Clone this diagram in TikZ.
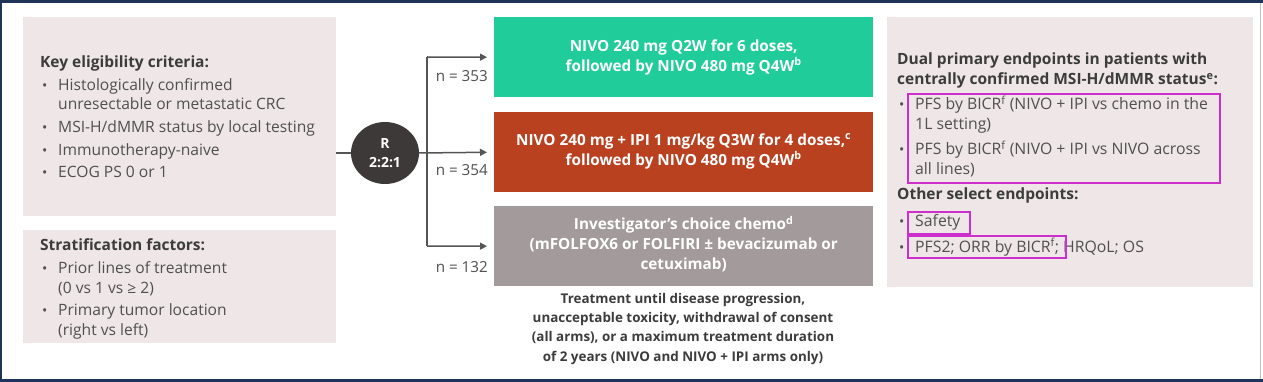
\documentclass[tikz,border=0pt]{standalone}
\usepackage{fontspec}
\setmainfont{Open Sans}
\usetikzlibrary{arrows.meta,shapes.geometric}
\definecolor{pinkbg}{HTML}{EEE6E7}
\definecolor{armgreen}{HTML}{20CC9A}
\definecolor{armred}{HTML}{BA4120}
\definecolor{armgrey}{HTML}{A39B9B}
\definecolor{circdark}{HTML}{3D3939}
\definecolor{hilite}{HTML}{CC2FCC}
\definecolor{txtgrey}{HTML}{505050}
\definecolor{headgrey}{HTML}{3C3C3C}
\definecolor{navy}{HTML}{1F3458}
\definecolor{linegrey}{HTML}{555555}
\tikzset{
  panel/.style={fill=pinkbg, draw=none, anchor=north west, inner sep=0},
  arm/.style={draw=none, anchor=north west, inner sep=0, minimum width=379pt, minimum height=80pt},
  armtxt/.style={anchor=center, inner sep=0, text=white, font=\fontsize{15.3}{20}\selectfont\bfseries, align=center},
  txt/.style={anchor=base west, inner sep=0, text=txtgrey, font=\fontsize{15.6}{19.5}\selectfont, align=left},
  rtxt/.style={anchor=base west, inner sep=0, text=txtgrey, font=\fontsize{15.8}{20}\selectfont, align=left},
  head/.style={anchor=base west, inner sep=0, text=headgrey, font=\fontsize{15.5}{20}\selectfont\bfseries, align=left},
  bul/.style={anchor=base west, inner sep=0, text=txtgrey, font=\fontsize{14}{19.5}\selectfont},
  nlab/.style={anchor=base east, inner sep=0, text=txtgrey, font=\fontsize{15.2}{19.5}\selectfont},
  conn/.style={draw=linegrey, line width=1.5pt},
  arr/.style={conn, -{Triangle[length=7pt,width=7pt]}, shorten >=7pt},
  hbox/.style={draw=hilite, line width=2pt, anchor=north west, inner sep=0},
}
\begin{document}
\begin{tikzpicture}[x=1pt,y=-1pt]
\useasboundingbox (0,0) rectangle (1263,382);
\fill[white] (0,0) rectangle (1263,382);
% frame
\fill[navy] (0,0) rectangle (1263,3.5);
\fill[navy] (0,378.5) rectangle (1263,382);
\fill[navy] (0,0) rectangle (1.5,382);
\fill[black!25] (1259.5,3.5) rectangle (1261,378.5);
% left panels
\node[panel, minimum width=313pt, minimum height=199pt] (lb1) at (23,17) {};
\node[panel, minimum width=313pt, minimum height=113pt] (lb2) at (23,230) {};
\node[head] (h1) at (40,68) {Key eligibility criteria:};
\node[bul] (b11) at (42,91) {•};
\node[txt] (t11) at (58,110) {Histologically confirmed\\unresectable or metastatic CRC};
\node[bul] (b12) at (42,133) {•};
\node[txt] (t12) at (58,133) {MSI-H/dMMR status by local testing};
\node[bul] (b13) at (42,156) {•};
\node[txt] (t13) at (58,156) {Immunotherapy-naive};
\node[bul] (b14) at (42,178) {•};
\node[txt] (t14) at (58,178) {ECOG PS 0 or 1};
\node[head] (h2) at (40,250) {Stratification factors:};
\node[bul] (b21) at (42,273) {•};
\node[txt] (t21) at (58,293) {Prior lines of treatment\\(0 vs 1 vs ≥ 2)};
\node[bul] (b22) at (42,315) {•};
\node[txt] (t22) at (58,335) {Primary tumor location\\(right vs left)};
% randomisation
\node[ellipse, fill=circdark, minimum width=68pt, minimum height=62pt, inner sep=0, text=white, font=\fontsize{14}{19}\selectfont\bfseries, align=center] (R) at (385,153) {R\\2:2:1};
% arms
\node[arm, fill=armgreen] (green) at (494,17) {};
\node[arm, fill=armred] (red) at (494,112) {};
\node[arm, fill=armgrey] (grey) at (494,206) {};
\node[armtxt] (gt) at (green.center) {NIVO 240 mg Q2W for 6 doses,\\followed by NIVO 480 mg Q4W\textsuperscript{b}};
\node[armtxt] (rt) at ([yshift=1pt]red.center) {NIVO 240 mg + IPI 1 mg/kg Q3W for 4 doses,\textsuperscript{c}\\followed by NIVO 480 mg Q4W\textsuperscript{b}};
\node[armtxt] (yt) at ([yshift=2pt]grey.center) {Investigator’s choice chemo\textsuperscript{d}\\(mFOLFOX6 or FOLFIRI ± bevacizumab or\\cetuximab)};
\node[anchor=base, inner sep=0, text=headgrey, font=\fontsize{13.4}{19.3}\selectfont\bfseries, align=center] (treat) at (683,361) {Treatment until disease progression,\\unacceptable toxicity, withdrawal of consent\\(all arms), or a maximum treatment duration\\of 2 years (NIVO and NIVO + IPI arms only)};
% n labels
\node[nlab] (n1) at (488,82) {n = 353};
\node[nlab] (n2) at (488,176) {n = 354};
\node[nlab] (n3) at (488,272) {n = 132};
% connectors
\coordinate (vtop) at (427,57);
\coordinate (vbot) at (427,246);
\draw[conn] (lb1.east |- R.west) -- (R.west);
\draw[arr] (R.east) -- (red.west);
\draw[conn] (vtop) -- (vbot);
\draw[arr] (vtop) -- (green.west);
\draw[arr] (vbot) -- (grey.west);
% right panel
\node[panel, minimum width=366pt, minimum height=270pt] (rb) at (887,17) {};
\node[head] (h3) at (897,85) {Dual primary endpoints in patients with\\centrally confirmed MSI-H/dMMR status\textsuperscript{e}:};
\node[bul] (b31) at (899,110) {•};
\node[rtxt] (t31) at (915,130) {PFS by BICR\textsuperscript{f} (NIVO + IPI vs chemo in the\\1L setting)};
\node[bul] (b32) at (899,155) {•};
\node[rtxt] (t32) at (915,175) {PFS by BICR\textsuperscript{f} (NIVO + IPI vs NIVO across\\all lines)};
\node[head] (h4) at (897,200) {Other select endpoints:};
\node[bul] (b41) at (899,226) {•};
\node[rtxt] (t41) at (915,226) {Safety};
\node[bul] (b42) at (899,252) {•};
\node[rtxt] (t42) at (915,252) {PFS2; ORR by BICR\textsuperscript{f}; HRQoL; OS};
\node[hbox, minimum width=312pt, minimum height=89pt] (m1) at (907,93) {};
\node[hbox, minimum width=62pt, minimum height=22pt] (m2) at (907,211) {};
\node[hbox, minimum width=158pt, minimum height=22pt] (m3) at (907,235) {};
\end{tikzpicture}
\end{document}
